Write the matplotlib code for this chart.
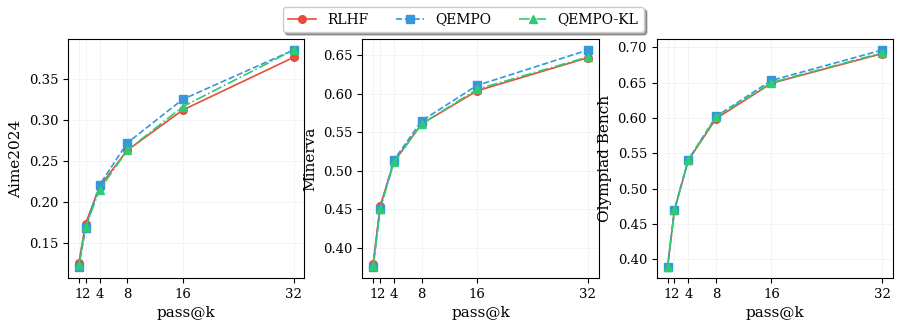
import numpy as np
import matplotlib
matplotlib.use('Agg')
import matplotlib.pyplot as plt

# ─── Datos ────────────────────────────────────────────────────────────────────
K = [1, 2, 4, 8, 16, 32]

AIME_RLHF  = [0.126, 0.174, 0.219, 0.263, 0.312, 0.376]
AIME_QEMPO = [0.121, 0.169, 0.221, 0.272, 0.325, 0.385]
AIME_KL    = [0.124, 0.170, 0.215, 0.263, 0.316, 0.385]

MIN_RLHF  = [0.379, 0.454, 0.512, 0.561, 0.604, 0.647]
MIN_QEMPO = [0.375, 0.451, 0.514, 0.565, 0.611, 0.657]
MIN_KL    = [0.376, 0.450, 0.511, 0.561, 0.606, 0.648]

OLY_RLHF  = [0.389, 0.470, 0.540, 0.599, 0.649, 0.691]
OLY_QEMPO = [0.389, 0.470, 0.541, 0.602, 0.653, 0.696]
OLY_KL    = [0.389, 0.470, 0.541, 0.601, 0.650, 0.692]

PANELES = [
    ("Aime2024", AIME_RLHF, AIME_QEMPO, AIME_KL),
    ("Minerva", MIN_RLHF, MIN_QEMPO, MIN_KL),
    ("Olympiad Bench", OLY_RLHF, OLY_QEMPO, OLY_KL),
]

# ─── Estilo ───────────────────────────────────────────────────────────────────
plt.rcParams.update({
    "font.family": "DejaVu Serif",
    "font.size": 10,
})

fig, axes = plt.subplots(1, 3, figsize=(9.03, 3.29), dpi=100)
fig.subplots_adjust(left=0.0753, right=0.989, top=0.881, bottom=0.155, wspace=0.246)

for ax, (nombre, rlhf, qempo, kl) in zip(axes, PANELES):
    ax.plot(K, rlhf, color='#e74c3c', linestyle='-', marker='o',
            markersize=5.5, linewidth=1.2, label='RLHF')
    ax.plot(K, qempo, color='#3498db', linestyle='--', marker='s',
            markersize=5.5, linewidth=1.2, label='QEMPO')
    ax.plot(K, kl, color='#2ecc71', linestyle='-.', marker='^',
            markersize=5.5, linewidth=1.2, label='QEMPO-KL')
    ax.set_xticks(K)
    ax.set_xticklabels([str(k) for k in K])
    ax.set_xlabel('pass@k', fontsize=11)
    ax.set_ylabel(nombre, fontsize=11)
    ax.grid(True, color='#e6e6e6', linewidth=0.5, alpha=0.6)
    ax.tick_params(labelsize=9.5)

handles, labels = axes[0].get_legend_handles_labels()
fig.legend(handles, labels, loc='upper center', ncol=3, bbox_to_anchor=(0.513, 1.0),
           fontsize=10, frameon=True, shadow=True, fancybox=True)

fig.savefig('out.png', dpi=100, facecolor='white')
